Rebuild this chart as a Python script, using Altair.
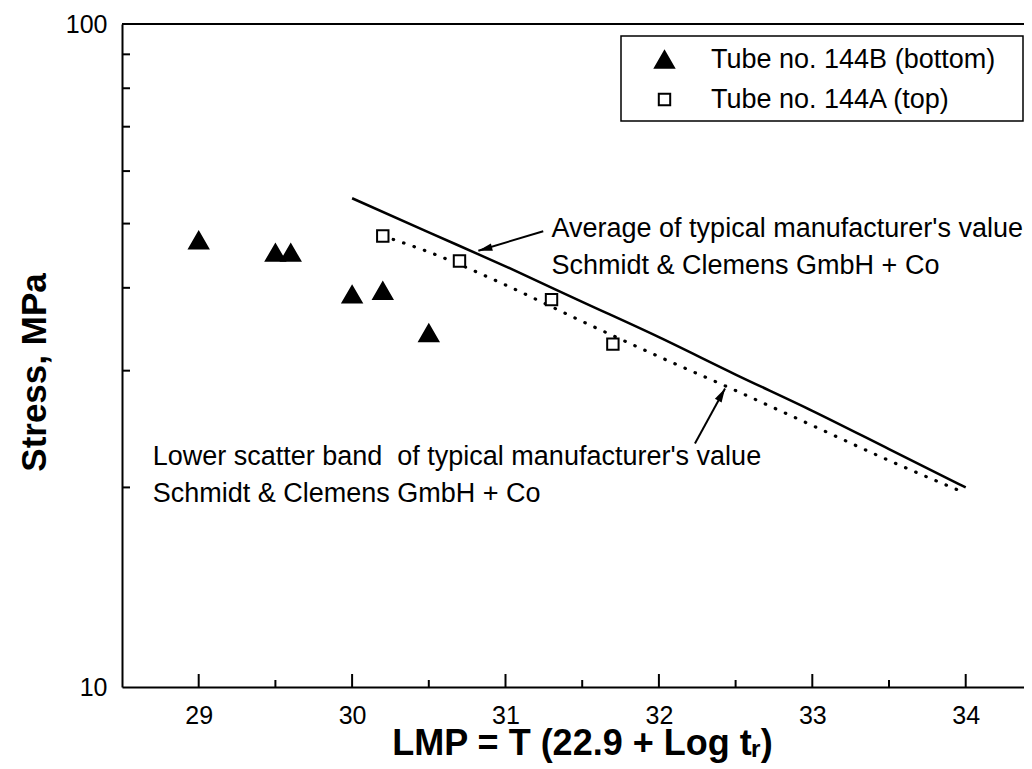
import altair as alt
import pandas as pd

# ---------------- data ----------------
tube_b_lmp = [29.0, 29.5, 29.6, 30.0, 30.2, 30.5]
tube_b_stress = [47.2, 45.2, 45.2, 39.1, 39.6, 34.2]

tube_a_lmp = [30.2, 30.7, 31.3, 31.7]
tube_a_stress = [47.9, 43.9, 38.4, 32.9]

avg_lmp = [30.0, 30.5, 31.0, 31.5, 32.0, 32.5, 33.0, 33.5, 34.0]
avg_stress = [54.6, 48.5, 43.1, 38.1, 33.7, 29.6, 26.1, 22.85, 20.0]

low_lmp = [30.2, 30.5, 31.0, 31.5, 32.0, 32.5, 33.0, 33.5, 34.0]
low_stress = [47.9, 45.3, 40.4, 35.6, 31.5, 28.0, 24.8, 21.96, 19.6]

series_names = ["Tube no. 144B (bottom)", "Tube no. 144A (top)"]

x_major = [29, 30, 31, 32, 33, 34]
x_minor = [29.5, 30.5, 31.5, 32.5, 33.5]
y_labels = [10, 100]
y_minor = [20, 30, 40, 50, 60, 70, 80, 90]

# annotations (data coordinates)
note_text = [
    "Average of typical manufacturer's value\nSchmidt & Clemens GmbH + Co",
    "Lower scatter band\u00a0 of typical manufacturer's value\nSchmidt & Clemens GmbH + Co",
]
note_lmp = [31.30, 28.70]
note_stress = [47.7, 21.6]

arrow_tail_lmp = [31.246, 32.235]
arrow_tail_stress = [48.7, 23.3]
arrow_tip_lmp = [30.823, 32.431]
arrow_tip_stress = [45.5, 28.2]

# ---------------- layout ----------------
W, H = 902, 663
FONT = "Liberation Sans"
LEG_X, LEG_Y, LEG_W, LEG_H = 499, 12, 402, 85

pts = pd.DataFrame({
    "lmp": tube_b_lmp + tube_a_lmp,
    "stress": tube_b_stress + tube_a_stress,
    "series": [series_names[0]] * len(tube_b_lmp) + [series_names[1]] * len(tube_a_lmp),
})
avg_df = pd.DataFrame({"lmp": avg_lmp, "stress": avg_stress})
low_df = pd.DataFrame({"lmp": low_lmp, "stress": low_stress})
notes_df = pd.DataFrame({"lmp": note_lmp, "stress": note_stress, "text": note_text})
arrows_df = pd.DataFrame({
    "lmp": arrow_tail_lmp, "stress": arrow_tail_stress,
    "lmp2": arrow_tip_lmp, "stress2": arrow_tip_stress,
})

xs = alt.Scale(domain=[28.5, 34.38], nice=False, zero=False)
ys = alt.Scale(type="log", domain=[10, 100], nice=False)

X_TITLE = "LMP = T (22.9 + Log tᵣ)"
Y_TITLE = "Stress, MPa"

x_axis = alt.Axis(
    values=x_major, format="d", grid=False, ticks=False, tickSize=0,
    labelFont=FONT, labelFontSize=25, labelColor="black", labelPadding=16,
    domainColor="black", domainWidth=2,
    title=X_TITLE, titleFont=FONT, titleFontSize=36,
    titleFontWeight="bold", titleColor="black",
    titleX=460, titleY=67, titleAlign="center", titleBaseline="alphabetic",
)
y_axis = alt.Axis(
    values=y_labels, format="d", grid=False, ticks=False, tickSize=0,
    labelFont=FONT, labelFontSize=25, labelColor="black", labelPadding=15,
    labelBaseline="middle",
    domainColor="black", domainWidth=2,
    title=Y_TITLE, titleFont=FONT, titleFontSize=35,
    titleFontWeight="bold", titleColor="black", titleAngle=270,
    titleX=-77, titleY=348, titleAlign="center", titleBaseline="alphabetic",
)


def X(field):
    return alt.X(field, scale=xs, axis=x_axis, title=X_TITLE)


def Y(field):
    return alt.Y(field, scale=ys, axis=y_axis, title=Y_TITLE)


legend = alt.Legend(
    title=None, orient="none", legendX=LEG_X, legendY=LEG_Y,
    labelFont=FONT, labelFontSize=27, labelColor="black", labelLimit=0,
    padding=10, rowPadding=12, symbolOffset=20, labelOffset=33,
    symbolStrokeColor="black", symbolStrokeWidth=2,
)

legend_box = alt.Chart(pd.DataFrame({"v": [0]})).mark_rect(
    fill="white", stroke="black", strokeWidth=1.5
).encode(
    x=alt.value(LEG_X), x2=alt.value(LEG_X + LEG_W),
    y=alt.value(LEG_Y), y2=alt.value(LEG_Y + LEG_H),
)

base_pts = alt.Chart(pts).mark_point(filled=True, strokeWidth=2, opacity=1).encode(
    x=X("lmp:Q"),
    y=Y("stress:Q"),
    shape=alt.Shape("series:N", scale=alt.Scale(domain=series_names, range=["triangle-up", "square"]), legend=legend),
    fill=alt.Fill("series:N", scale=alt.Scale(domain=series_names, range=["black", "white"]), legend=legend),
    stroke=alt.Stroke("series:N", scale=alt.Scale(domain=series_names, range=["black", "black"]), legend=legend),
    size=alt.Size("series:N", scale=alt.Scale(domain=series_names, range=[360, 130]), legend=legend),
)

avg_line = alt.Chart(avg_df).mark_line(color="black", strokeWidth=2.5, interpolate="monotone").encode(
    x=X("lmp:Q"), y=Y("stress:Q"),
)
low_line = alt.Chart(low_df).mark_line(
    color="black", strokeWidth=3.2, strokeDash=[0.5, 10.5], strokeCap="round", interpolate="monotone"
).encode(
    x=X("lmp:Q"), y=Y("stress:Q"),
)

notes = alt.Chart(notes_df).mark_text(
    align="left", baseline="alphabetic", font=FONT, fontSize=27, color="black",
    lineBreak="\n", lineHeight=37,
).encode(
    x=X("lmp:Q"), y=Y("stress:Q"), text="text:N",
)

shafts = alt.Chart(arrows_df).mark_rule(color="black", strokeWidth=2).encode(
    x=X("lmp:Q"), y=Y("stress:Q"), x2="lmp2:Q", y2="stress2:Q",
)
ARROW = "M0,0L0.55,2L-0.55,2Z"
head1 = alt.Chart(arrows_df.iloc[[0]]).mark_point(shape=ARROW, filled=True, color="black", size=196, opacity=1).encode(
    x=X("lmp2:Q"), y=Y("stress2:Q"), angle=alt.value(255),
)
head2 = alt.Chart(arrows_df.iloc[[1]]).mark_point(shape=ARROW, filled=True, color="black", size=196, opacity=1).encode(
    x=X("lmp2:Q"), y=Y("stress2:Q"), angle=alt.value(29),
)

xmaj = alt.Chart(pd.DataFrame({"lmp": x_major})).mark_rule(color="black", strokeWidth=2).encode(
    x=X("lmp:Q"), y=alt.value(H), y2=alt.value(H - 13))
xmin = alt.Chart(pd.DataFrame({"lmp": x_minor})).mark_rule(color="black", strokeWidth=2).encode(
    x=X("lmp:Q"), y=alt.value(H), y2=alt.value(H - 7))
ymin = alt.Chart(pd.DataFrame({"stress": y_minor})).mark_rule(color="black", strokeWidth=2).encode(
    y=Y("stress:Q"), x=alt.value(0), x2=alt.value(8))
top_border = alt.Chart(pd.DataFrame({"v": [0]})).mark_rule(color="black", strokeWidth=2).encode(
    x=alt.value(0), x2=alt.value(W), y=alt.value(0))

chart = alt.layer(
    top_border, legend_box, xmaj, xmin, ymin, avg_line, low_line, shafts, head1, head2, notes, base_pts,
).properties(
    width=W, height=H,
    autosize=alt.AutoSizeParams(type="none"),
    padding={"left": 114, "top": 16, "right": 0, "bottom": 76},
    background="white",
).configure_view(strokeWidth=0)

chart.save("out.html", embed_options={"renderer": "svg", "actions": False})
